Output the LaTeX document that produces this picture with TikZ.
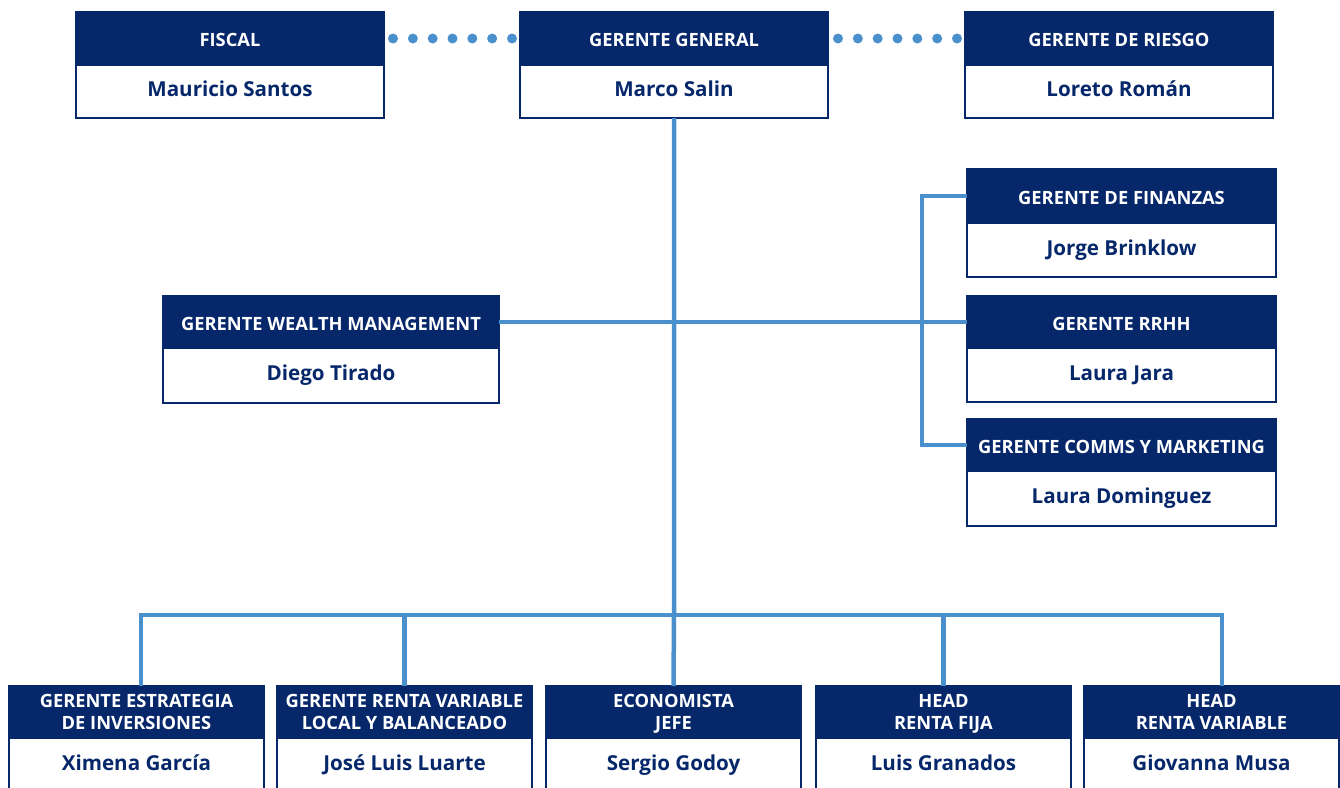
\documentclass[tikz,border=0pt]{standalone}
\usepackage{fontspec}
\setmainfont{Open Sans}
\usetikzlibrary{calc}
\definecolor{navy}{RGB}{6,40,107}
\definecolor{lblue}{RGB}{74,144,205}
\tikzset{
 hdrbase/.style={fill=navy, draw=navy, line width=1.2pt, outer sep=0pt, text=white, font=\bfseries\fontsize{18.3}{21.5}\selectfont, inner sep=0pt, anchor=north west, align=center},
 hdr/.style={hdrbase, text height=16pt, text depth=0pt},
 hdrtwo/.style={hdrbase},
 nm/.style={draw=navy, fill=white, line width=1.5pt, outer sep=0pt, text=navy, font=\bfseries\fontsize{20.6}{24}\selectfont, inner sep=0pt, anchor=north, align=center, text height=10.6pt, text depth=0pt},
 conn/.style={draw=lblue, line width=4.5pt},
 dot/.style={fill=lblue},
}
\begin{document}
\begin{tikzpicture}[x=1pt,y=-1pt]
\useasboundingbox (0,0) rectangle (1340,787);
\clip (0,0) rectangle (1340,787);
\coordinate (busC) at (674,615);
\coordinate (busL) at (141,615);
\coordinate (busR) at (1222,615);
\coordinate (brk) at (922,0);

% top row
\node[hdr, minimum width=308, minimum height=53] (fH) at (76,12) {FISCAL};
\node[nm, minimum width=308, minimum height=53] (fN) at (fH.south) {Mauricio Santos};
\node[hdr, minimum width=308, minimum height=53] (gH) at (520,12) {GERENTE GENERAL};
\node[nm, minimum width=308, minimum height=53] (gN) at (gH.south) {Marco Salin};
\node[hdr, minimum width=308, minimum height=53] (rgH) at (965,12) {GERENTE DE RIESGO};
\node[nm, minimum width=308, minimum height=53] (rgN) at (rgH.south) {Loreto Román};

% middle
\node[hdr, minimum width=336, minimum height=52] (wH) at (163,296) {GERENTE WEALTH MANAGEMENT};
\node[nm, minimum width=336, minimum height=55] (wN) at (wH.south) {Diego Tirado};
\node[hdr, minimum width=309, minimum height=54] (fiH) at (967,169) {GERENTE DE FINANZAS};
\node[nm, minimum width=309, minimum height=54] (fiN) at (fiH.south) {Jorge Brinklow};
\node[hdr, minimum width=309, minimum height=52] (rhH) at (967,296) {GERENTE RRHH};
\node[nm, minimum width=309, minimum height=54] (rhN) at (rhH.south) {Laura Jara};
\node[hdr, minimum width=309, minimum height=52] (cH) at (967,419) {GERENTE COMMS Y MARKETING};
\node[nm, minimum width=309, minimum height=55] (cN) at (cH.south) {Laura Dominguez};

% bottom row
\node[hdrtwo, minimum width=255, minimum height=52] (b1H) at (9,686) {GERENTE ESTRATEGIA\\\smash{DE INVERSIONES}};
\node[nm, minimum width=255, minimum height=54] (b1N) at (b1H.south) {Ximena García};
\node[hdrtwo, minimum width=255, minimum height=52] (b2H) at (277,686) {GERENTE RENTA VARIABLE\\\smash{LOCAL Y BALANCEADO}};
\node[nm, minimum width=255, minimum height=54] (b2N) at (b2H.south) {José Luis Luarte};
\node[hdrtwo, minimum width=255, minimum height=52] (b3H) at (546,686) {ECONOMISTA\\\smash{JEFE}};
\node[nm, minimum width=255, minimum height=54] (b3N) at (b3H.south) {Sergio Godoy};
\node[hdrtwo, minimum width=255, minimum height=52] (b4H) at (816,686) {HEAD\\\smash{RENTA FIJA}};
\node[nm, minimum width=255, minimum height=54] (b4N) at (b4H.south) {Luis Granados};
\node[hdrtwo, minimum width=255, minimum height=52] (b5H) at (1084,686) {HEAD\\\smash{RENTA VARIABLE}};
\node[nm, minimum width=255, minimum height=54] (b5N) at (b5H.south) {Giovanna Musa};
% the lower boxes continue below the page edge
\draw[navy, line width=1.5pt] (b1N.south west) -- ++(0,40) (b1N.south east) -- ++(0,40)
  (b2N.south west) -- ++(0,40) (b2N.south east) -- ++(0,40)
  (b3N.south west) -- ++(0,40) (b3N.south east) -- ++(0,40)
  (b4N.south west) -- ++(0,40) (b4N.south east) -- ++(0,40)
  (b5N.south west) -- ++(0,40) (b5N.south east) -- ++(0,40);
\fill[white] (0,788) rectangle (1340,800);

% dotted connectors
\coordinate (d1s) at ([xshift=9pt]fH.east);
\coordinate (d1e) at ([xshift=-8pt]gH.west);
\coordinate (d2s) at ([xshift=10pt]gH.east);
\coordinate (d2e) at ([xshift=-8pt]rgH.west);
\foreach \i in {0,...,6} {
  \fill[dot] ($(d1s)!\i/6!(d1e)$) circle (5pt);
  \fill[dot] ($(d2s)!\i/6!(d2e)$) circle (5pt);
}
% solid connectors
\draw[conn] (gN.south) -- (busC) -- (b3H.north);
\draw[conn] (wH.east) -- (rhH.west);
\draw[conn] (fiH.west) -- (fiH.west -| brk) -- (cH.west -| brk) -- (cH.west);
\draw[conn] (b1H.north -| busL) -- (busL) -- (busR) -- (b5H.north -| busR);
\draw[conn] (b2H.north) -- (b2H.north |- busC);
\draw[conn] (b4H.north) -- (b4H.north |- busC);
\end{tikzpicture}
\end{document}
